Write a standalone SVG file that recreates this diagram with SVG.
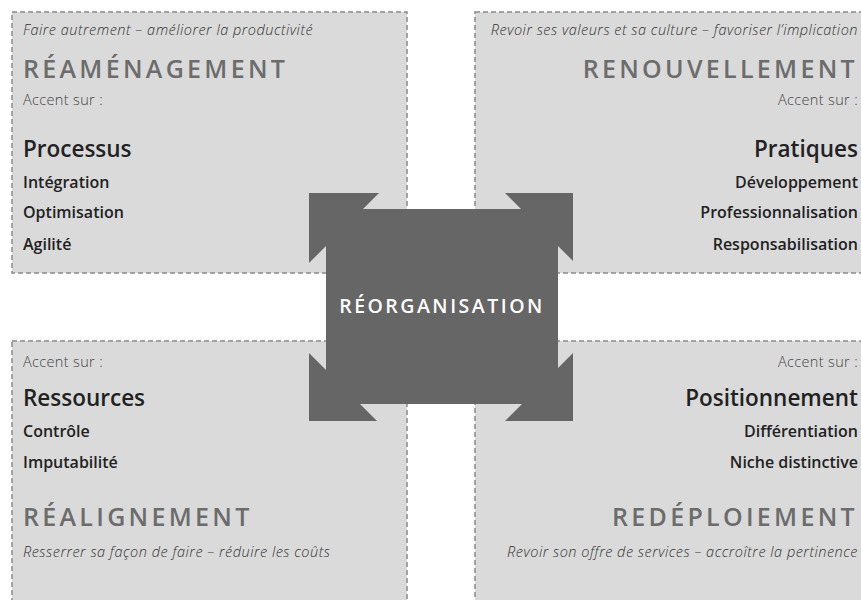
<svg xmlns="http://www.w3.org/2000/svg" width="861" height="600" viewBox="0 0 861 600">
<style>
.box{fill:#dadada;stroke:#8a8a8a;stroke-width:1.5;stroke-dasharray:5 3}
.it{font-family:"Open Sans",sans-serif;font-style:italic;font-weight:300;font-size:14.5px;letter-spacing:0.5px;fill:#333}
.ttl{font-family:"Open Sans",sans-serif;font-weight:600;font-size:25px;letter-spacing:3.3px;fill:#6c6c6c}
.acc{font-family:"Open Sans",sans-serif;font-weight:300;font-size:14.5px;letter-spacing:0.35px;fill:#444}
.main{font-family:"Open Sans",sans-serif;font-weight:600;font-size:22.5px;fill:#222}
.item{font-family:"Open Sans",sans-serif;font-weight:600;font-size:16px;fill:#222}
.r{text-anchor:end}
.ctr{fill:#666}
.ctxt{font-family:"Open Sans",sans-serif;font-weight:600;font-size:19.5px;letter-spacing:2.5px;fill:#fff;text-anchor:middle}
</style>
<rect width="861" height="600" fill="#fff"/>
<g id="reamenagement">
<rect class="box" x="12" y="12" width="395" height="261"/>
<text class="it" x="23" y="35">Faire autrement – améliorer la productivité</text>
<text class="ttl" x="23" y="78">RÉAMÉNAGEMENT</text>
<text class="acc" x="23" y="105">Accent sur :</text>
<text class="main" x="23" y="157">Processus</text>
<text class="item" x="23" y="188">Intégration</text>
<text class="item" x="23" y="218">Optimisation</text>
<text class="item" x="23" y="250">Agilité</text>
</g>
<g id="renouvellement">
<rect class="box" x="475" y="12" width="400" height="261"/>
<text class="it r" x="858" y="35">Revoir ses valeurs et sa culture – favoriser l’implication</text>
<text class="ttl r" x="858" y="78">RENOUVELLEMENT</text>
<text class="acc r" x="858" y="105">Accent sur :</text>
<text class="main r" x="858" y="157">Pratiques</text>
<text class="item r" x="858" y="188">Développement</text>
<text class="item r" x="858" y="218">Professionnalisation</text>
<text class="item r" x="858" y="250">Responsabilisation</text>
</g>
<g id="realignement">
<rect class="box" x="12" y="341" width="395" height="280"/>
<text class="acc" x="23" y="367">Accent sur :</text>
<text class="main" x="23" y="406">Ressources</text>
<text class="item" x="23" y="437">Contrôle</text>
<text class="item" x="23" y="468">Imputabilité</text>
<text class="ttl" x="23" y="526">RÉALIGNEMENT</text>
<text class="it" x="23" y="557">Resserrer sa façon de faire – réduire les coûts</text>
</g>
<g id="redeploiement">
<rect class="box" x="475" y="341" width="400" height="280"/>
<text class="acc r" x="858" y="367">Accent sur :</text>
<text class="main r" x="858" y="406">Positionnement</text>
<text class="item r" x="858" y="437">Différentiation</text>
<text class="item r" x="858" y="468">Niche distinctive</text>
<text class="ttl r" x="858" y="526">REDÉPLOIEMENT</text>
<text class="it r" x="858" y="557">Revoir son offre de services – accroître la pertinence</text>
</g>
<g id="connectors">
<polygon class="ctr" points="309,193 379,193 309,263"/>
<polygon class="ctr" points="573,193 505,193 573,261"/>
<polygon class="ctr" points="309,421 309,353 377,421"/>
<polygon class="ctr" points="573,421 505,421 573,353"/>
</g>
<g id="reorganisation">
<rect class="ctr" x="326" y="209" width="232" height="195"/>
<text class="ctxt" x="442" y="313">RÉORGANISATION</text>
</g>
</svg>
